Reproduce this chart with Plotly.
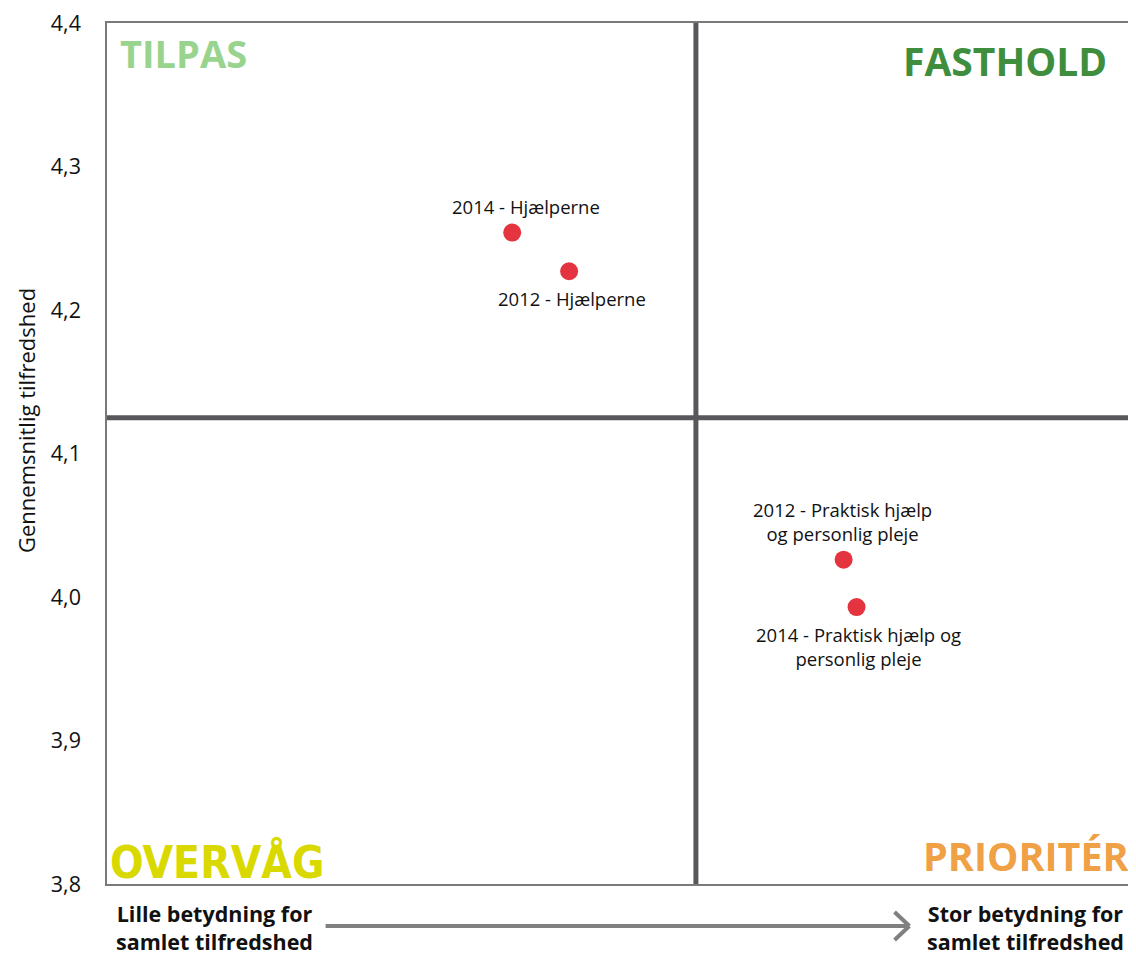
import plotly.graph_objects as go

# data
labels = ["2014 - Hjælperne", "2012 - Hjælperne",
          "2012 - Praktisk hjælp<br>og personlig pleje",
          "2014 - Praktisk hjælp og<br>personlig pleje"]
betydning = [0.3915, 0.4465, 0.7117, 0.7242]
tilfredshed = [4.254, 4.227, 4.026, 3.993]
above = [True, False, True, False]
label_dx = [14, 3, -1, 2]

x_mid = 0.569
y_mid = 4.125
y_ticks = [3.8, 3.9, 4.0, 4.1, 4.2, 4.3, 4.4]

font = "Open Sans, Lato, sans-serif"

fig = go.Figure()
fig.add_trace(go.Scatter(
    x=betydning, y=tilfredshed, mode="markers",
    marker=dict(size=18, color="#e3343f"),
    cliponaxis=False, hoverinfo="skip", showlegend=False))

for xv, yv, lab, up, dx in zip(betydning, tilfredshed, labels, above, label_dx):
    fig.add_annotation(x=xv, y=yv, text=lab, showarrow=False,
                       xanchor="center", yanchor="bottom" if up else "top",
                       xshift=dx, yshift=12 if up else -13,
                       font=dict(size=18.5, color="#111111", family=font))

# quadrant lines
line_col = "#58575c"
fig.add_shape(type="line", x0=x_mid, x1=x_mid, y0=3.8, y1=4.4,
              line=dict(color=line_col, width=5), layer="below")
fig.add_shape(type="line", x0=0, x1=1, y0=y_mid, y1=y_mid,
              line=dict(color=line_col, width=5), layer="below")

quad = [
    ("TILPAS", 0.0106, 0.965, "left", "#98d48e", "Open Sans, sans-serif", 38),
    ("FASTHOLD", 0.9685, 0.956, "right", "#3e8e3e", "Open Sans, sans-serif", 39),
    ("OVERVÅG", 0.001, 0.0255, "left", "#d9d900", "DejaVu Sans Condensed, sans-serif", 44),
    ("PRIORITÉR", 0.990, 0.0325, "right", "#f0a045", "Open Sans, sans-serif", 39.5),
]
for txt, px, py, anc, col, fam, sz in quad:
    fig.add_annotation(x=px, y=py, xref="paper", yref="paper", text="<b>%s</b>" % txt,
                       showarrow=False, xanchor=anc, yanchor="middle",
                       font=dict(size=sz, color=col, family=fam))

# bottom axis texts
fig.add_annotation(x=0.1037, y=-0.051, xref="paper", yref="paper",
                   text="<b>Lille betydning for<br>samlet tilfredshed</b>",
                   xanchor="center", yanchor="middle",
                   showarrow=False, font=dict(size=21.5, color="#111111", family=font))
fig.add_annotation(x=0.887, y=-0.051, xref="paper", yref="paper",
                   text="<b>Stor betydning for<br>samlet tilfredshed</b>",
                   xanchor="center", yanchor="middle",
                   showarrow=False, font=dict(size=21.5, color="#111111", family=font))

# arrow (line + open chevron)
arrow = dict(color="#808080", width=4)
fig.add_shape(type="line", xref="paper", yref="paper",
              x0=0.2112, x1=0.7734, y0=-0.0487, y1=-0.0487, line=arrow)
fig.add_shape(type="line", xref="paper", yref="paper",
              x0=0.7609, x1=0.7753, y0=-0.0325, y1=-0.0487, line=arrow)
fig.add_shape(type="line", xref="paper", yref="paper",
              x0=0.7609, x1=0.7753, y0=-0.065, y1=-0.0487, line=arrow)

# y axis title
fig.add_annotation(x=-0.078, y=0.538, xref="paper", yref="paper",
                   text="Gennemsnitlig tilfredshed", textangle=-90,
                   xanchor="center", yanchor="middle", showarrow=False,
                   font=dict(size=22, color="#111111", family=font))

fig.update_xaxes(range=[0, 1], showticklabels=False, showgrid=False, zeroline=False,
                 showline=True, linecolor="#7a7a7a", linewidth=1.5, mirror=True, ticks="")
fig.update_yaxes(range=[3.79999, 4.40001], tickvals=y_ticks, tickformat=".1f", showgrid=False,
                 zeroline=False, showline=True, linecolor="#7a7a7a", linewidth=1.5,
                 mirror=True, ticks="", ticklabelstandoff=20, ticklabeloverflow="allow",
                 tickfont=dict(size=21.5, color="#111111", family=font))

fig.update_layout(
    width=1136, height=955,
    margin=dict(l=99, r=0, t=14, b=79),
    paper_bgcolor="white", plot_bgcolor="white",
    separators=", ",
)

fig.write_html("out.html")
